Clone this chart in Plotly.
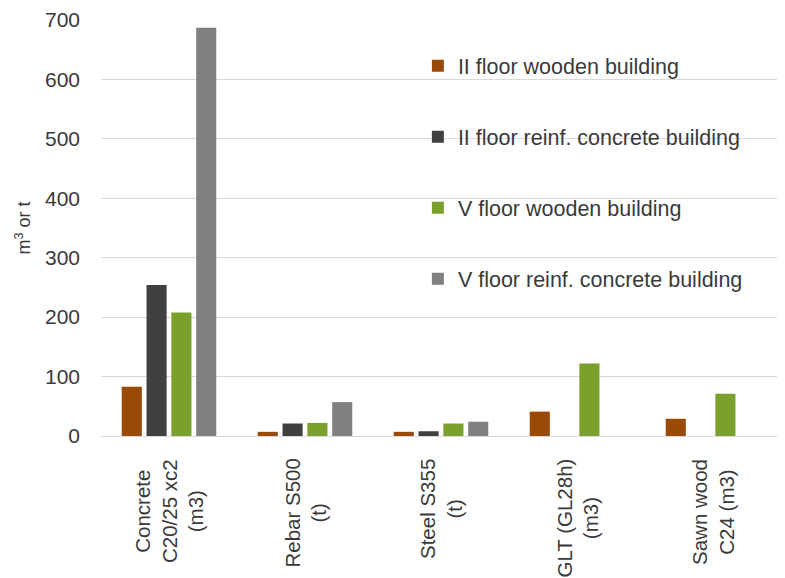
import plotly.graph_objects as go

categories = ["Concrete<br>C20/25 xc2<br>(m3)", "Rebar S500<br>(t)", "Steel S355<br>(t)",
              "GLT (GL28h)<br>(m3)", "Sawn wood<br>C24 (m3)"]
cat_keys = ["Concrete", "Rebar", "Steel", "GLT", "Sawn"]
series_names = ["II floor wooden building", "II floor reinf. concrete building",
                "V floor wooden building", "V floor reinf. concrete building"]
ii_wood = [83, 7, 7, 41, 29]
ii_conc = [254, 21, 8, None, None]
v_wood = [208, 22, 21, 122, 71]
v_conc = [687, 57, 24, None, None]
colors = ["#9A4A06", "#404040", "#78A02A", "#808080"]
y_ticks = [0, 100, 200, 300, 400, 500, 600, 700]

FONT = "Liberation Sans"
TXT = "#3a3a3a"

fig = go.Figure()
for i, (name, vals) in enumerate(zip(series_names, [ii_wood, ii_conc, v_wood, v_conc])):
    fig.add_trace(go.Bar(
        x=cat_keys, y=vals, name=name, marker_color=colors[i],
        marker_line_width=0, legendgroup=f"g{i}",
    ))

for key, lab in zip(cat_keys, categories):
    fig.add_annotation(
        x=key, y=0, xref="x", yref="paper", text=lab, showarrow=False,
        textangle=-90, yanchor="top", xanchor="center", yshift=-21,
        font=dict(family=FONT, size=20.5, color=TXT), align="center",
    )

fig.update_layout(
    width=777, height=570,
    margin=dict(l=93, r=4, t=12, b=142, autoexpand=False),
    plot_bgcolor="white", paper_bgcolor="white",
    barmode="group", bargap=0.27, bargroupgap=0.19,
    font=dict(family=FONT, size=20, color=TXT),
    legend=dict(
        x=0.466, y=0.939, xanchor="left", yanchor="top",
        bgcolor="rgba(0,0,0,0)", tracegroupgap=40,
        font=dict(family=FONT, size=21.5, color=TXT),
    ),
    showlegend=True,
)
fig.update_xaxes(showticklabels=False, showgrid=False, showline=False, zeroline=False,
                 automargin=False)
fig.update_yaxes(
    range=[0, 700], tickvals=y_ticks, showgrid=True, gridcolor="#d9d9d9", gridwidth=1,
    zeroline=True, zerolinecolor="#d9d9d9", zerolinewidth=1, showline=False,
    automargin=False,
    ticklabelstandoff=20, tickfont=dict(family=FONT, size=21, color=TXT),
    title=dict(text="m<sup>3</sup> or t", font=dict(family=FONT, size=18, color=TXT), standoff=9),
)
fig.write_html("out.html")
